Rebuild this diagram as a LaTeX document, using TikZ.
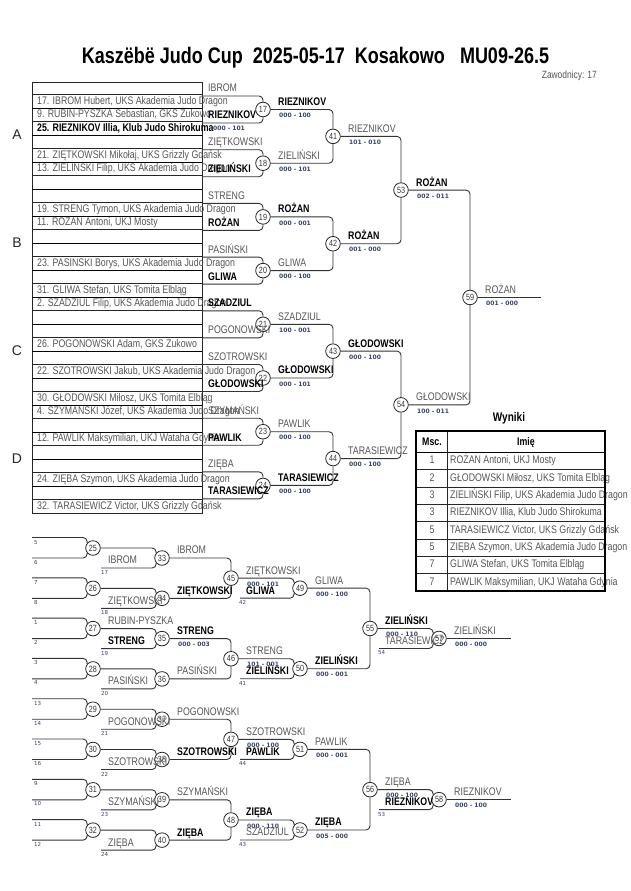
\documentclass[tikz,border=0pt]{standalone}
\usepackage{fontspec}
\setmainfont{Liberation Sans}
\newfontfamily\cond{Liberation Sans}[FakeStretch=0.8]
\newfontfamily\dvs{DejaVu Sans}
\usetikzlibrary{calc}
\definecolor{namegray}{RGB}{85,85,85}
\definecolor{scorecol}{RGB}{55,68,105}
\newcommand{\fs}[1]{\fontsize{#1}{#1}\selectfont}

\tikzset{
  wire/.style={draw=black!80,line width=0.9pt,rounded corners=4pt},
  bout/.style={circle,draw=black!85,line width=0.8pt,minimum size=14.6pt,inner sep=0pt,text=black!80,font=\cond\fs{9}},
  loser/.style={anchor=west,inner sep=0pt,text height=7.9pt,text depth=0pt,text=namegray,font=\cond\fs{11}},
  winner/.style={loser,text=black,font=\cond\bfseries\fs{11}},
  score/.style={anchor=west,inner sep=0pt,text height=4.4pt,text depth=0pt,text=scorecol,font=\dvs\bfseries\fs{6}},
  seed/.style={score,text height=4pt,font=\dvs\fs{5.5}},
  slotline/.style={draw=black!85,line width=0.5pt},
  grpline/.style={draw=black,line width=1pt},
  pool/.style={inner sep=0pt,text=black!85,font=\fs{14}},
}

\begin{document}
\begin{tikzpicture}[x=1pt,y=-1pt]
  \useasboundingbox (0,0) rectangle (630,891);

  % header
  \node[inner sep=0pt,font=\cond\bfseries\fs{22.5}] (title) at (315.5,58)
    {Kaszëbë Judo Cup\ \ 2025-05-17\ \ Kosakowo\ \ \ MU09-26.5};
  \node[anchor=east,inner sep=0pt,text=namegray,font=\cond\fs{10.5}] (count) at (597,76) {Zawodnicy: 17};

  % pools
  \draw[slotline] (32,82.5) rectangle (202,513);
  \foreach \j in {1,3,...,31} \draw[slotline] (32,81+13.5*\j) -- (202,81+13.5*\j);
  \foreach \j in {2,4,...,30} \draw[grpline] (32,81+13.5*\j) -- (202,81+13.5*\j);
  \foreach \l [count=\k from 0] in {A,B,C,D}
    \node[pool] (pool\l) at (17,135+108*\k) {\l};
  \foreach \j/\s/\txt in {1/loser/{17. IBROM Hubert, UKS Akademia Judo Dragon},
      2/loser/{9. RUBIN-PYSZKA Sebastian, GKS Żukowo},
      3/winner/{25. RIEZNIKOV Illia, Klub Judo Shirokuma},
      5/loser/{21. ZIĘTKOWSKI Mikołaj, UKS Grizzly Gdańsk},
      6/loser/{13. ZIELINSKI Filip, UKS Akademia Judo Dragon},
      9/loser/{19. STRENG Tymon, UKS Akademia Judo Dragon},
      10/loser/{11. ROZAN Antoni, UKJ Mosty},
      13/loser/{23. PASINSKI Borys, UKS Akademia Judo Dragon},
      15/loser/{31. GLIWA Stefan, UKS Tomita Elbląg},
      16/loser/{2. SZADZIUL Filip, UKS Akademia Judo Dragon},
      19/loser/{26. POGONOWSKI Adam, GKS Żukowo},
      21/loser/{22. SZOTROWSKI Jakub, UKS Akademia Judo Dragon},
      23/loser/{30. GŁODOWSKI Miłosz, UKS Tomita Elbląg},
      24/loser/{4. SZYMANSKI Józef, UKS Akademia Judo Dragon},
      26/loser/{12. PAWLIK Maksymilian, UKJ Wataha Gdynia},
      29/loser/{24. ZIĘBA Szymon, UKS Akademia Judo Dragon},
      31/loser/{32. TARASIEWICZ Victor, UKS Grizzly Gdańsk}}
    \node[\s] (seat\j) at (37,86.75+13.5*\j) {\txt};

  % bouts
  \foreach \first/\last/\px/\py/\dy in {17/24/263/109.5/53.7, 41/44/333/136.35/107.4,
      53/54/401/190.05/214.8, 59/59/470/297.45/0, 25/32/93/548/40.3, 33/40/162/558/40.3,
      45/48/231/578.15/80.6, 49/52/300/588.15/80.6, 55/56/370/628.45/161.2, 57/58/439/638.45/161.2}
    \foreach \n [count=\k from 0] in {\first,...,\last}
      \node[bout] (m\n) at (\px,\py+\dy*\k) {\n};

  % fresh entries
  \foreach \n in {17,...,24}{
    \coordinate (hi\n) at ($(m\n)+(-61,-13.5)$);
    \coordinate (lo\n) at ($(m\n)+(-61,13.5)$);
    \draw[wire] (hi\n) -| (m\n.north);
    \draw[wire] (lo\n) -| (m\n.south);
  }
  \foreach \n in {25,...,32}{
    \coordinate (hi\n) at ($(m\n)+(-61,-10.5)$);
    \coordinate (lo\n) at ($(m\n)+(-61,10)$);
    \draw[wire] (hi\n) -| (m\n.140);
    \draw[wire] (lo\n) -| (m\n.220);
  }
  \foreach \n/\dx in {33/-61,34/-61,35/-61,36/-61,37/-61,38/-61,39/-61,40/-61,
      49/-60,50/-60,51/-60,52/-60,57/-60,58/-60}{
    \coordinate (lo\n) at ($(m\n)+(\dx,10)$);
    \draw[wire] (lo\n) -| (m\n.220);
  }

  % winners moving on
  \foreach \n/\a/\b in {41/17/18,42/19/20,43/21/22,44/23/24,53/41/42,54/43/44,59/53/54,
      45/33/34,46/35/36,47/37/38,48/39/40,55/49/50,56/51/52}{
    \draw[wire] (m\a.east) -| (m\n.north);
    \draw[wire] (m\b.east) -| (m\n.south);
  }
  \foreach \n/\a in {33/25,34/26,35/27,36/28,37/29,38/30,39/31,40/32,
      49/45,50/46,51/47,52/48,57/55,58/56}
    \draw[wire] (m\a.east) -| (m\n.140);
  \coordinate (gold) at ($(m59)+(71,0)$);
  \coordinate (bronzeA) at ($(m57)+(72,0)$);
  \coordinate (bronzeB) at ($(m58)+(72,0)$);
  \draw[wire] (m59.east) -- (gold);
  \draw[wire] (m57.east) -- (bronzeA);
  \draw[wire] (m58.east) -- (bronzeB);

  % names at first bouts
  \foreach \n/\s/\top/\t/\bot in {17/loser/IBROM/winner/RIEZNIKOV,
      18/loser/ZIĘTKOWSKI/winner/ZIELIŃSKI, 19/loser/STRENG/winner/ROŻAN,
      20/loser/PASIŃSKI/winner/GLIWA, 21/winner/SZADZIUL/loser/POGONOWSKI,
      22/loser/SZOTROWSKI/winner/GŁODOWSKI, 23/loser/SZYMAŃSKI/winner/PAWLIK,
      24/loser/ZIĘBA/winner/TARASIEWICZ}{
    \node[\s] (up\n) at ($(m\n)+(-55,-21.5)$) {\top};
    \node[\t] (dn\n) at ($(m\n)+(-55,5.5)$) {\bot};
  }
  \node[score] (pre17) at ($(m17)+(-50,18.5)$) {000 - 101};

  % results above the lines
  \foreach \n/\s/\who/\res in {17/winner/RIEZNIKOV/000 - 100, 18/loser/ZIELIŃSKI/000 - 101,
      19/winner/ROŻAN/000 - 001, 20/loser/GLIWA/000 - 100, 21/loser/SZADZIUL/100 - 001,
      22/winner/GŁODOWSKI/000 - 101, 23/loser/PAWLIK/000 - 100, 24/winner/TARASIEWICZ/000 - 100,
      41/loser/RIEZNIKOV/101 - 010, 42/winner/ROŻAN/001 - 000, 43/winner/GŁODOWSKI/000 - 100,
      44/loser/TARASIEWICZ/000 - 100, 53/winner/ROŻAN/002 - 011, 54/loser/GŁODOWSKI/100 - 011,
      59/loser/ROŻAN/001 - 000, 27/loser/RUBIN-PYSZKA/, 33/loser/IBROM/, 34/winner/ZIĘTKOWSKI/,
      35/winner/STRENG/000 - 003, 36/loser/PASIŃSKI/, 37/loser/POGONOWSKI/,
      38/winner/SZOTROWSKI/, 39/loser/SZYMAŃSKI/, 40/winner/ZIĘBA/,
      45/loser/ZIĘTKOWSKI/000 - 101, 46/loser/STRENG/101 - 001, 47/loser/SZOTROWSKI/000 - 100,
      48/winner/ZIĘBA/000 - 110, 49/loser/GLIWA/000 - 100, 50/winner/ZIELIŃSKI/000 - 001,
      51/loser/PAWLIK/000 - 001, 52/winner/ZIĘBA/005 - 000, 55/winner/ZIELIŃSKI/000 - 110,
      56/loser/ZIĘBA/000 - 100, 57/loser/ZIELIŃSKI/000 - 000, 58/loser/RIEZNIKOV/000 - 100}{
    \node[\s] (out\n) at ($(m\n)+(15,-8)$) {\who};
    \node[score] (res\n) at ($(m\n)+(16,6)$) {\res};
  }

  % repechage entries
  \foreach \n/\p/\q in {25/5/6,26/7/8,27/1/2,28/3/4,29/13/14,30/15/16,31/9/10,32/11/12}{
    \node[seed] (sa\n) at ($(m\n)+(-59,-6)$) {\p};
    \node[seed] (sb\n) at ($(m\n)+(-59,14)$) {\q};
  }
  \foreach \n/\s/\who/\g in {33/loser/IBROM/17, 34/loser/ZIĘTKOWSKI/18, 35/winner/STRENG/19,
      36/loser/PASIŃSKI/20, 37/loser/POGONOWSKI/21, 38/loser/SZOTROWSKI/22,
      39/loser/SZYMAŃSKI/23, 40/loser/ZIĘBA/24, 49/winner/GLIWA/42, 50/winner/ZIELIŃSKI/41,
      51/winner/PAWLIK/44, 52/loser/SZADZIUL/43, 57/loser/TARASIEWICZ/54, 58/winner/RIEZNIKOV/53}{
    \node[\s] (in\n) at ($(m\n)+(-54,2)$) {\who};
    \node[seed] (sd\n) at ($(m\n)+(-61,14.5)$) {\g};
  }

  % Wyniki
  \node[inner sep=0pt,font=\cond\bfseries\fs{12.5}] (wyn) at (509,418) {Wyniki};
  \node[winner,anchor=center] (hmsc) at (432,441.5) {Msc.};
  \node[winner,anchor=center] (himie) at (526,441.5) {Imię};
  \foreach \p/\who [count=\k from 0] in {1/{ROŻAN Antoni, UKJ Mosty},
      2/{GŁODOWSKI Miłosz, UKS Tomita Elbląg},
      3/{ZIELIŃSKI Filip, UKS Akademia Judo Dragon},
      3/{RIEZNIKOV Illia, Klub Judo Shirokuma},
      5/{TARASIEWICZ Victor, UKS Grizzly Gdańsk},
      5/{ZIĘBA Szymon, UKS Akademia Judo Dragon},
      7/{GLIWA Stefan, UKS Tomita Elbląg},
      7/{PAWLIK Maksymilian, UKJ Wataha Gdynia}}{
    \node[loser,anchor=center] (pl\k) at (432,459.7+17.375*\k) {\p};
    \node[loser] (nm\k) at (450,459.7+17.375*\k) {\who};
  }
  \foreach \k in {1,...,7} \draw[slotline] (416,452+17.375*\k) -- (605,452+17.375*\k);
  \draw[line width=1pt] (416,452) -- (605,452);
  \draw[slotline] (447,431) -- (447,591);
  \draw[line width=1.5pt] (416,431) rectangle (605,591);
\end{tikzpicture}
\end{document}
